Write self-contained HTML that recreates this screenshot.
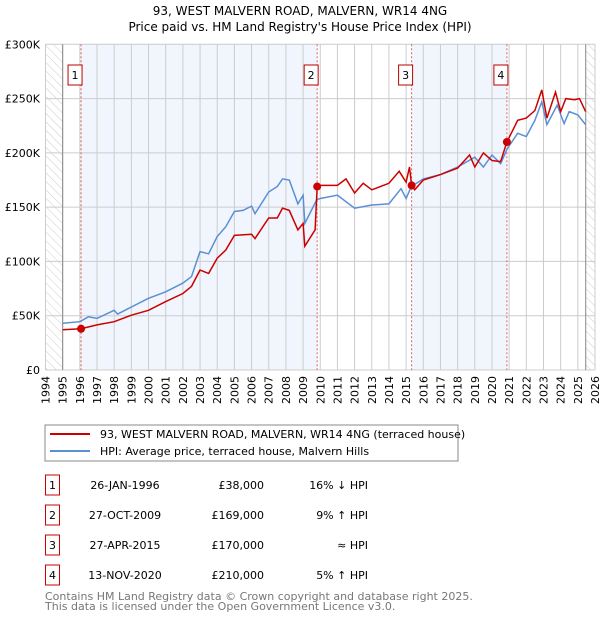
<!DOCTYPE html>
<html><head><meta charset="utf-8"><style>
body{margin:0;background:#fff;font-family:"DejaVu Sans","Liberation Sans",sans-serif;}
svg text{font-family:"DejaVu Sans","Liberation Sans",sans-serif;}
</style></head><body>
<svg id="chart" width="600" height="620" viewBox="0 0 600 620" xmlns="http://www.w3.org/2000/svg">
<defs><pattern id="hatch" width="6" height="6" patternUnits="userSpaceOnUse" patternTransform="rotate(-45)"><line x1="0" y1="0" x2="0" y2="6" stroke="#ccc" stroke-width="1"/></pattern></defs>
<text x="300" y="15" text-anchor="middle" font-size="12">93, WEST MALVERN ROAD, MALVERN, WR14 4NG</text>
<text x="300" y="31" text-anchor="middle" font-size="12">Price paid vs. HM Land Registry's House Price Index (HPI)</text>
<g id="plot"></g>
<rect x="45" y="425" width="413" height="36" fill="#fff" stroke="#888"/>
<line x1="50" y1="434" x2="90" y2="434" stroke="#cc0000" stroke-width="2"/>
<text x="100" y="438" font-size="11">93, WEST MALVERN ROAD, MALVERN, WR14 4NG (terraced house)</text>
<line x1="50" y1="451" x2="90" y2="451" stroke="#5b8fd4" stroke-width="2"/>
<text x="100" y="455" font-size="11">HPI: Average price, terraced house, Malvern Hills</text>
<g id="table" font-size="11"></g>
<text x="45" y="600" font-size="11" fill="#777">Contains HM Land Registry data © Crown copyright and database right 2025.</text>
<text x="45" y="610" font-size="11" fill="#777">This data is licensed under the Open Government Licence v3.0.</text>
</svg>
<script>
const hpiYears=[1995,1996,1996.5,1997,1998,1998.2,1999,2000,2001,2002,2002.5,2003,2003.5,2004,2004.5,2005,2005.5,2006,2006.2,2007,2007.5,2007.8,2008.2,2008.7,2009,2009.1,2009.8,2010,2011,2012,2013,2014,2014.7,2015,2015.3,2016,2017,2018,2019,2019.5,2020,2020.5,2020.9,2021.5,2022,2022.5,2022.9,2023.2,2023.8,2024.2,2024.5,2025,2025.45];
const hpiValues=[43,44.5,49,47.5,55,51.5,58,66,72,80,86,109,107,123,132,146,147,151,144,164,169,176,175,153,161,135,157,158,161,149,152,153,167,158,169,176,180,187,196,187,198,190,204,218,215,230,247,226,244,227,238,235,226];
const ppYears=[1995,1996.07,1997,1998,1999,2000,2001,2002,2002.5,2003,2003.5,2004,2004.5,2005,2006,2006.2,2007,2007.5,2007.8,2008.2,2008.7,2009,2009.1,2009.7,2009.82,2010,2011,2011.5,2012,2012.5,2013,2014,2014.6,2015,2015.2,2015.32,2015.5,2016,2017,2018,2018.7,2019,2019.5,2020,2020.5,2020.87,2021.5,2022,2022.5,2022.9,2023.2,2023.7,2024,2024.3,2024.8,2025.1,2025.45];
const ppValues=[37,38,41.5,44.5,50.5,55,63,70.5,77,92,89,103,110.5,124,125,121,140,140,149,147,129,135,114,129,169,170,170,176,163,172,166,172,183,173,187,170,166,175,180,186,198,187,200,193,192,210,230,232,239,258,232,256,238,250,249,250,238];
const saleLabels=["1","2","3","4"];
const saleYears=[1996.07,2009.82,2015.32,2020.87];
const salePrices=[38,169,170,210];
const saleDates=["26-JAN-1996","27-OCT-2009","27-APR-2015","13-NOV-2020"];
const salePriceText=["£38,000","£169,000","£170,000","£210,000"];
const saleHpiText=["16% ↓ HPI","9% ↑ HPI","≈ HPI","5% ↑ HPI"];
const yTicks=[0,50,100,150,200,250,300];
const yTickLabels=["£0","£50K","£100K","£150K","£200K","£250K","£300K"];
const X0=45.5,X1=595,Y0=370,Y1=44.3;
const xs=y=>X0+(y-1994)*(X1-X0)/32;
const ys=v=>Y0-(v/300)*(Y0-Y1);
const NS="http://www.w3.org/2000/svg";
const g=document.getElementById('plot');
function mk(t,a,p){const e=document.createElementNS(NS,t);for(const k in a)e.setAttribute(k,a[k]);(p||g).appendChild(e);return e;}
let e;
e=mk('rect',{x:X0,y:Y1,width:X1-X0,height:Y0-Y1,fill:'#fff'});


e=mk('rect',{x:X0,y:Y1,width:xs(1995)-X0,height:Y0-Y1,fill:'url(#hatch)'});


e=mk('rect',{x:xs(2025.46),y:Y1,width:X1-xs(2025.46),height:Y0-Y1,fill:'url(#hatch)'});


[[0,1],[2,3]].forEach(([a,b])=>{
 e=mk('rect',{x:xs(saleYears[a]),y:Y1,width:xs(saleYears[b])-xs(saleYears[a]),height:Y0-Y1,fill:'#eef3fc',opacity:0.8});
 
 
});
for(let yr=1994;yr<=2026;yr++){
 e=mk('line',{x1:xs(yr),x2:xs(yr),y1:Y1,y2:Y0,stroke:'#ccc','stroke-width':1});
 
 
 const tx=xs(yr)+4,ty=376;
 e=mk('text',{x:tx,y:ty,transform:`rotate(-90 ${tx} ${ty})`,'text-anchor':'end','font-size':11});
 e.textContent=yr;
 
 
}
yTicks.forEach((v,i)=>{
 e=mk('line',{x1:X0,x2:X1,y1:ys(v),y2:ys(v),stroke:'#ccc','stroke-width':1});
 
 
 e=mk('text',{x:40,y:ys(v)+4,'text-anchor':'end','font-size':11});
 e.textContent=yTickLabels[i];
 
 
});
e=mk('line',{x1:xs(1995),x2:xs(1995),y1:Y1,y2:Y0,stroke:'#888'});


e=mk('line',{x1:xs(2025.46),x2:xs(2025.46),y1:Y1,y2:Y0,stroke:'#888'});


saleYears.forEach((yr,i)=>{
 e=mk('line',{x1:xs(yr),x2:xs(yr),y1:Y1,y2:Y0,stroke:'#e06060','stroke-dasharray':'2,2','stroke-width':1});
 
 
 e=mk('rect',{x:xs(yr)-13,y:65,width:14,height:20,fill:'#fff',stroke:'#b00'});
 
 
 e=mk('text',{x:xs(yr)-6,y:79,'text-anchor':'middle','font-size':11});
 e.textContent=saleLabels[i];
 
 
});
const pathOf=(xa,va)=>xa.map((x,i)=>(i?'L':'M')+xs(x).toFixed(1)+','+ys(va[i]).toFixed(1)).join('');
e=mk('path',{d:pathOf(hpiYears,hpiValues),fill:'none',stroke:'#5b8fd4','stroke-width':1.5});


e=mk('path',{d:pathOf(ppYears,ppValues),fill:'none',stroke:'#cc0000','stroke-width':1.5});


saleYears.forEach((yr,i)=>{
 e=mk('circle',{cx:xs(yr),cy:ys(salePrices[i]),r:4,fill:'#cc0000'});
 
 
});
const t=document.getElementById('table');
saleLabels.forEach((l,i)=>{
 const y=485+i*30;
 e=mk('rect',{x:45.5,y:y-10,width:14,height:20,fill:'#fff',stroke:'#cc0000'},t);
 
 
 e=mk('text',{x:52.5,y:y+4,'text-anchor':'middle'},t);e.textContent=l;
 
 
 e=mk('text',{x:125,y:y+4,'text-anchor':'middle'},t);e.textContent=saleDates[i];
 
 
 e=mk('text',{x:264,y:y+4,'text-anchor':'end'},t);e.textContent=salePriceText[i];
 
 
 e=mk('text',{x:368,y:y+4,'text-anchor':'end'},t);e.textContent=saleHpiText[i];
 
 
});
</script>
</body></html>
